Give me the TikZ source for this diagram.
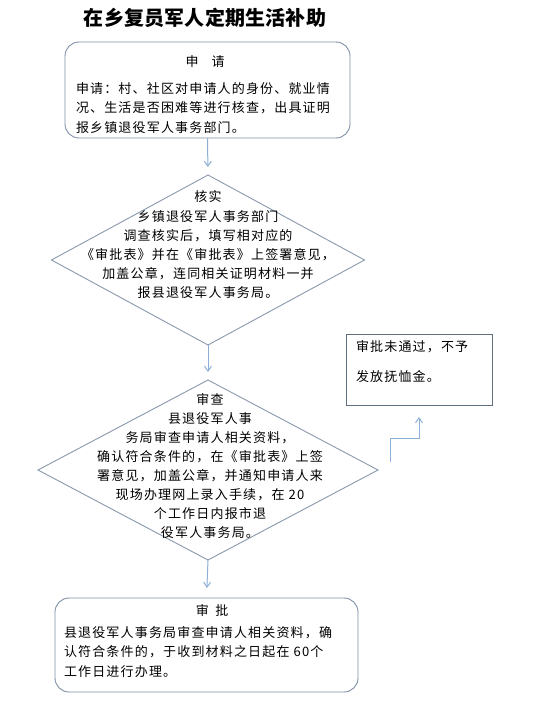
\documentclass[tikz,border=0pt]{standalone}
\usepackage{fontspec}
\usetikzlibrary{shapes.geometric,arrows.meta}
\newfontfamily\cjk{Noto Sans CJK SC}[LetterSpace=9]
\newfontfamily\cjktitle{Noto Sans CJK SC}[LetterSpace=1]
\definecolor{boxc}{HTML}{7F8FA6}
\definecolor{diac}{HTML}{8A99AE}
\definecolor{sidec}{HTML}{5F6F80}
\definecolor{arrc}{HTML}{8EB0D8}
\begin{document}
\begin{tikzpicture}[x=1pt,y=-1pt,
  every node/.style={inner sep=0pt, outer sep=0pt},
  txt/.style={font=\cjk\fontsize{13}{19.5}\selectfont, text=black},
  txtt/.style={font=\cjktitle\bfseries\fontsize{20}{24}\selectfont, text=black},
  rbox/.style={draw=boxc, line width=0.9pt, rounded corners=14pt},
  dia/.style={draw=diac, line width=0.9pt, diamond},
  sbox/.style={draw=sidec, line width=0.9pt},
  arr/.style={draw=arrc, line width=1pt, -{Straight Barb[length=5pt,width=7pt]}}]
\useasboundingbox (0,0) rectangle (547,717);
\fill[white] (0,0) rectangle (547,717);

\node[txtt] (title) at (205,18) {在乡复员军人定期生活补助};

% box 1
\node[rbox, minimum width=285pt, minimum height=96pt] (b1) at (207.5,90) {};
\node[txt] (b1h) at (205,62) {申\quad 请};
\node[txt, align=left, anchor=west] (b1t) at (76,108)
  {申请：村、社区对申请人的身份、就业情\\况、生活是否困难等进行核查，出具证明\\报乡镇退役军人事务部门。};

% diamond 1
\node[dia, minimum width=313pt, minimum height=170pt] (d1) at (208,260) {};
\node[txt, align=center, font=\cjk\fontsize{13}{19.2}\selectfont] (d1t) at (208,245)
  {核实\\乡镇退役军人事务部门\\调查核实后，填写相对应的\\《审批表》并在《审批表》上签署意见，\\加盖公章，连同相关证明材料一并\\报县退役军人事务局。};

% diamond 2
\node[dia, minimum width=340pt, minimum height=180pt] (d2) at (208,470) {};
\node[txt, align=center, font=\cjk\fontsize{13}{18.9}\selectfont] (d2t) at (210,466)
  {审查\\县退役军人事\\务局审查申请人相关资料，\\确认符合条件的，在《审批表》上签\\署意见，加盖公章，并通知申请人来\\现场办理网上录入手续，在 20\\个工作日内报市退\\役军人事务局。};

% box 4
\node[rbox, minimum width=303pt, minimum height=94pt] (b4) at (206.5,645) {};
\node[txt] (b4h) at (212,610) {审\enspace 批};
\node[txt, align=left, anchor=west] (b4t) at (64,652)
  {县退役军人事务局审查申请人相关资料，确\\认符合条件的，于收到材料之日起在 60个\\工作日进行办理。};

% side box
\node[sbox, minimum width=146pt, minimum height=71pt] (sb) at (419,369.5) {};
\node[txt, align=left, anchor=west, font=\cjk\fontsize{13}{30}\selectfont] (sbt) at (356,362)
  {审批未通过，不予\\发放抚恤金。};

% arrows
\draw[arr, shorten >=8pt] (b1.south) -- (d1.north);
\draw[arr, shorten >=8pt] (d1.south) -- (d2.north);
\draw[arr, shorten >=10pt] (d2.south) -- (b4.north);
\coordinate (e0) at (390,462);
\coordinate (e1) at (390,438);
\draw[arr, shorten >=12pt] (e0) -- (e1) -| (sb.south);
\end{tikzpicture}
\end{document}
